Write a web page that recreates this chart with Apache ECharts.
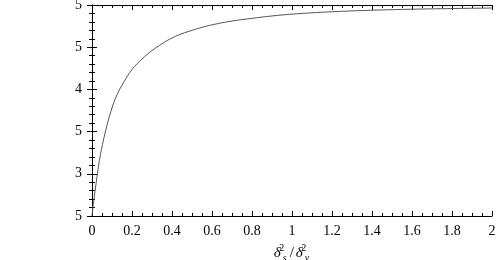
<!DOCTYPE html>
<html><head><meta charset="utf-8">
<script src="https://cdn.jsdelivr.net/npm/echarts@6/dist/echarts.min.js"></script>
<style>html,body{margin:0;padding:0;background:#fff}#c{width:500px;height:260px}</style>
</head><body><div id="c"></div>
<script>
// Data
const ratio = [0, 0.005, 0.01, 0.02, 0.03, 0.04, 0.05, 0.06, 0.08, 0.10, 0.12, 0.15, 0.2, 0.25, 0.3, 0.35, 0.4, 0.45, 0.5, 0.55, 0.6, 0.7, 0.8, 0.9, 1.0, 1.2, 1.4, 1.6, 1.8, 2.0];
const value = [0.250, 0.261, 0.270, 0.288, 0.305, 0.320, 0.332, 0.343, 0.362, 0.378, 0.391, 0.405, 0.4235, 0.436, 0.446, 0.454, 0.461, 0.466, 0.470, 0.4735, 0.4765, 0.481, 0.4842, 0.4870, 0.4892, 0.4920, 0.4938, 0.4950, 0.4958, 0.4964];
const xTicks = [0, 0.2, 0.4, 0.6, 0.8, 1, 1.2, 1.4, 1.6, 1.8, 2];
const yTicks = [0.25, 0.3, 0.35, 0.4, 0.45, 0.5];

const font = 'Liberation Serif';
const chart = echarts.init(document.getElementById('c'), null, {renderer: 'canvas'});
const tickStyle = {
  axisLine: {show: true, lineStyle: {color: '#000', width: 1}},
  axisTick: {show: true, inside: true, length: 5, lineStyle: {color: '#000'}},
  splitLine: {show: false}
};
const xMinor = {minorTick: {show: true, splitNumber: 4, length: 3, lineStyle: {color: '#000'}}};
const yMinor = {minorTick: {show: true, splitNumber: 5, length: 3, lineStyle: {color: '#000'}}};
chart.setOption({
  animation: false,
  grid: {left: 92, right: 8, top: 5, bottom: 44, containLabel: false, outerBoundsMode: 'none'},
  xAxis: [
    Object.assign({
      type: 'value', min: xTicks[0], max: xTicks[xTicks.length - 1], interval: 0.2, position: 'bottom',
      axisLabel: {fontFamily: font, fontSize: 14, color: '#000', margin: 8,
        formatter: v => String(+v.toFixed(1))},
      name: '{d|δ}{p|2}{b|s}{q|/}{d|δ}{p|2}{b|v}', nameLocation: 'middle', nameGap: 19,
      nameTextStyle: {rich: {
        d: {fontFamily: font, fontSize: 15, fontStyle: 'italic', color: '#000', lineHeight: 20, verticalAlign: 'middle'},
        q: {fontFamily: font, fontSize: 15, color: '#000', lineHeight: 20, verticalAlign: 'middle', padding: [0, 2, 0, 2]},
        p: {fontFamily: font, fontSize: 10, color: '#000', width: 0, lineHeight: 20, verticalAlign: 'top', padding: [0, 0, 0, 1]},
        b: {fontFamily: font, fontSize: 10, fontStyle: 'italic', color: '#000', lineHeight: 20, verticalAlign: 'bottom', padding: [0, 1, 0, 1]}
      }}
    }, tickStyle, xMinor),
    Object.assign({
      type: 'value', min: xTicks[0], max: xTicks[xTicks.length - 1], interval: 0.2, position: 'top',
      axisLabel: {show: false}
    }, tickStyle, xMinor)
  ],
  yAxis: [
    Object.assign({
      type: 'value', min: yTicks[0], max: yTicks[yTicks.length - 1], interval: 0.05, position: 'left',
      axisLabel: {fontFamily: font, fontSize: 14, color: '#000', margin: 10,
        formatter: v => String(+v.toFixed(2)).slice(-1)}
    }, tickStyle, yMinor),
    Object.assign({
      type: 'value', min: yTicks[0], max: yTicks[yTicks.length - 1], interval: 0.05, position: 'right',
      axisLabel: {show: false}
    }, tickStyle, yMinor)
  ],
  series: [{
    type: 'line', smooth: 0.4, showSymbol: false,
    data: ratio.map((r, i) => [r, value[i]]),
    lineStyle: {color: '#555', width: 1}
  }]
});
</script></body></html>
